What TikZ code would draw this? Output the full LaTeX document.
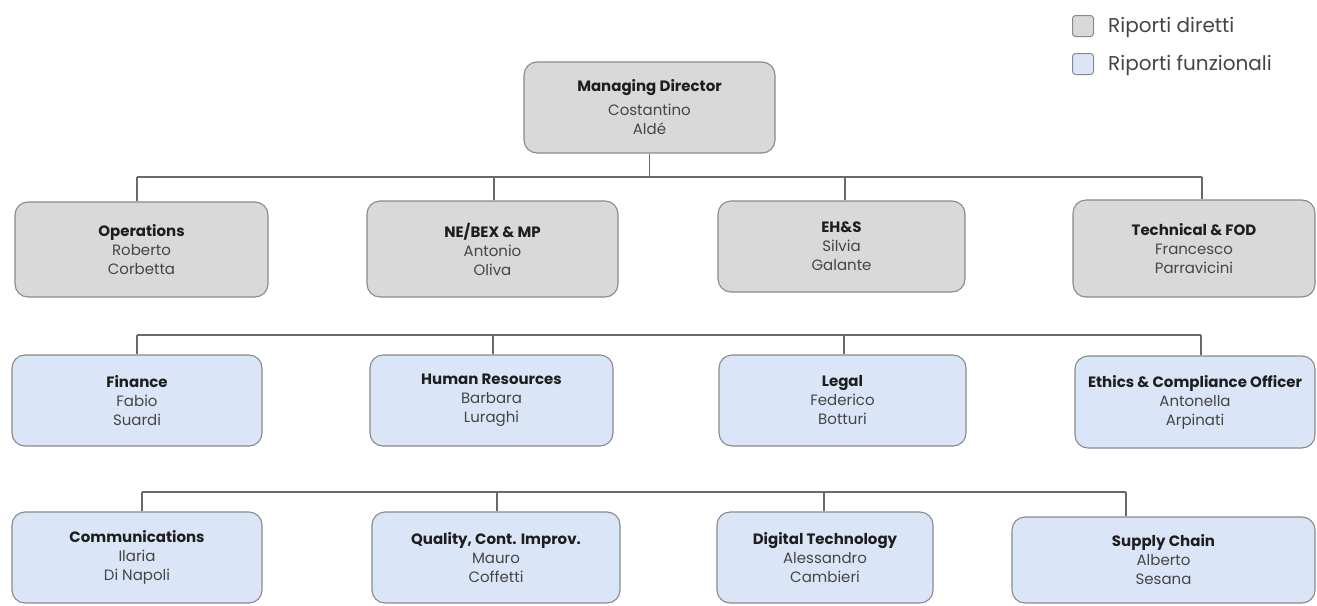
\documentclass[tikz,border=0pt]{standalone}
\usepackage{fontspec}
\setmainfont{Poppins}
\definecolor{dirfill}{HTML}{D9D9D9}
\definecolor{funfill}{HTML}{DAE6F7}
\definecolor{boxline}{HTML}{8A8A8A}
\definecolor{conn}{HTML}{6A6A6A}
\definecolor{titlec}{HTML}{1E1E1E}
\definecolor{namec}{HTML}{454545}
\newcommand{\ttl}[1]{{\bfseries\color{titlec}#1}}
\tikzset{
  orgbox/.style={draw=boxline, line width=1.1pt, rounded corners=13pt, inner sep=0pt,
     align=center, font=\fontsize{15}{19}\selectfont, text=namec},
  dirbox/.style={orgbox, fill=dirfill},
  funbox/.style={orgbox, fill=funfill},
  wire/.style={draw=conn, line width=1.3pt},
  legbox/.style={draw=boxline, line width=1pt, rounded corners=3pt, minimum width=21pt, minimum height=21pt, inner sep=0pt},
  legtext/.style={anchor=west, inner sep=0pt, font=\fontsize{20}{22}\selectfont, text=namec}
}
\begin{document}
\begin{tikzpicture}[x=1pt,y=-1pt]
\useasboundingbox[fill=white] (0,0) rectangle (1317,605);
% legend
\node[legbox, fill=dirfill] (l1) at (1083,26) {};
\node[legtext] (l1t) at (1108,27) {Riporti diretti};
\node[legbox, fill=funfill] (l2) at (1083,64) {};
\node[legtext] (l2t) at (1108,65) {Riporti funzionali};
% top
\node[dirbox, minimum width=251pt, minimum height=91pt] (md) at (649.5,107.5)
  {\ttl{Managing Director}\\[5pt]Costantino\\Aldé};
% row 1
\node[dirbox, minimum width=253pt, minimum height=95pt] (ops) at (141.5,249.5)
  {\ttl{Operations}\\Roberto\\Corbetta};
\node[dirbox, minimum width=251pt, minimum height=96pt] (ne) at (492.5,249)
  {\ttl{NE/BEX \& MP}\\Antonio\\Oliva};
\node[dirbox, minimum width=247pt, minimum height=91pt] (ehs) at (841.5,246.5)
  {\ttl{EH\&S}\\Silvia\\Galante};
\node[dirbox, minimum width=242pt, minimum height=97pt] (tech) at (1194,248.5)
  {\ttl{Technical \& FOD}\\Francesco\\Parravicini};
% row 2
\node[funbox, minimum width=250pt, minimum height=91pt] (fin) at (137,400.5)
  {\ttl{Finance}\\Fabio\\Suardi};
\node[funbox, minimum width=243pt, minimum height=91pt] (hr) at (491.5,400.5)
  {\ttl{Human Resources}\\Barbara\\Luraghi};
\node[funbox, minimum width=247pt, minimum height=91pt] (leg) at (842.5,400.5)
  {\ttl{Legal}\\Federico\\Botturi};
\node[funbox, minimum width=240pt, minimum height=92pt] (eth) at (1195,402)
  {\ttl{Ethics \& Compliance Officer}\\Antonella\\Arpinati};
% row 3
\node[funbox, minimum width=250pt, minimum height=91pt] (com) at (137,557.5)
  {\ttl{Communications}\\Ilaria\\Di Napoli};
\node[funbox, minimum width=248pt, minimum height=91pt] (qua) at (496,557.5)
  {\ttl{Quality, Cont. Improv.}\\Mauro\\Coffetti};
\node[funbox, minimum width=216pt, minimum height=91pt] (dig) at (825,557.5)
  {\ttl{Digital Technology}\\Alessandro\\Cambieri};
\node[funbox, minimum width=303pt, minimum height=86pt] (sup) at (1163.5,560)
  {\ttl{Supply Chain}\\Alberto\\Sesana};
% bus coordinates
\coordinate (b1) at (0,177);
\coordinate (b2) at (0,335);
\coordinate (b3) at (0,492);
% row 1 connectors
\draw[wire] (md.south) -- (md.south |- b1);
\draw[wire] ([xshift=-4.5pt]ops.north |- b1) -- ([xshift=8pt]tech.north |- b1);
\draw[wire] ([xshift=-4.5pt]ops.north) -- ([xshift=-4.5pt]ops.north |- b1);
\draw[wire] ([xshift=1.5pt]ne.north) -- ([xshift=1.5pt]ne.north |- b1);
\draw[wire] ([xshift=3.5pt]ehs.north) -- ([xshift=3.5pt]ehs.north |- b1);
\draw[wire] ([xshift=8pt]tech.north) -- ([xshift=8pt]tech.north |- b1);
% row 2 connectors
\draw[wire] (fin.north |- b2) -- ([xshift=6pt]eth.north |- b2);
\draw[wire] (fin.north) -- (fin.north |- b2);
\draw[wire] ([xshift=1.5pt]hr.north) -- ([xshift=1.5pt]hr.north |- b2);
\draw[wire] ([xshift=1.5pt]leg.north) -- ([xshift=1.5pt]leg.north |- b2);
\draw[wire] ([xshift=6pt]eth.north) -- ([xshift=6pt]eth.north |- b2);
% row 3 connectors
\draw[wire] ([xshift=5pt]com.north |- b3) -- ([xshift=-37.5pt]sup.north |- b3);
\draw[wire] ([xshift=5pt]com.north) -- ([xshift=5pt]com.north |- b3);
\draw[wire] ([xshift=1pt]qua.north) -- ([xshift=1pt]qua.north |- b3);
\draw[wire] ([xshift=-1pt]dig.north) -- ([xshift=-1pt]dig.north |- b3);
\draw[wire] ([xshift=-37.5pt]sup.north) -- ([xshift=-37.5pt]sup.north |- b3);
\end{tikzpicture}
\end{document}
